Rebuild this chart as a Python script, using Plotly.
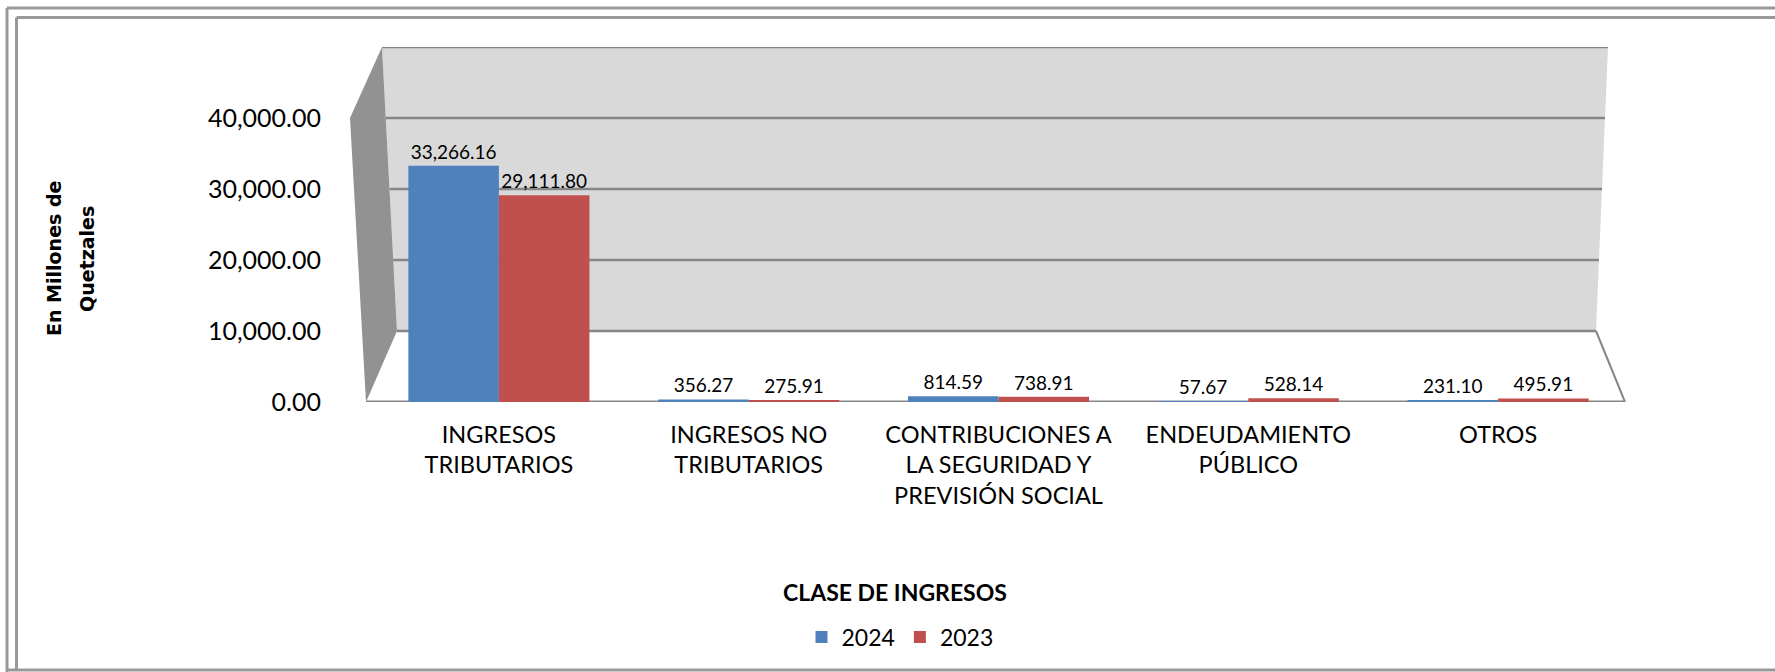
import plotly.graph_objects as go

categories = ["INGRESOS<br>TRIBUTARIOS", "INGRESOS NO<br>TRIBUTARIOS",
              "CONTRIBUCIONES A<br>LA SEGURIDAD Y<br>PREVISIÓN SOCIAL",
              "ENDEUDAMIENTO<br>PÚBLICO", "OTROS"]
values_2024 = [33266.16, 356.27, 814.59, 57.67, 231.10]
values_2023 = [29111.80, 275.91, 738.91, 528.14, 495.91]
series_names = ["2024", "2023"]
tick_vals = [0, 10000, 20000, 30000, 40000]
y_max = 50000

W, H = 1775, 672
ML, MR, MT, MB = 374, 152, 47, 270
PW = W - ML - MR
PH = H - MT - MB


def px_x(px):
    return (px - ML) / PW


def px_y(py):
    return (H - MB - py) / PH


BLUE = "#4F81BD"
RED = "#C0504D"
GRID = "#868686"
FRAME = "#999999"
FONT = "Lato, 'Open Sans', sans-serif"

fig = go.Figure()
for name, vals, col in [(series_names[0], values_2024, BLUE),
                        (series_names[1], values_2023, RED)]:
    fig.add_trace(go.Bar(
        x=categories, y=vals, name=name,
        marker=dict(color=col, line=dict(width=0)),
        texttemplate="%{y:,.2f}", textposition="outside",
        textfont=dict(family=FONT, size=19, color="#000000"),
        cliponaxis=False,
    ))


def wall_x(val, side):
    t = (y_max - val) / (y_max - 10000)
    if side == "L":
        return px_x(382 + (397 - 382) * t)
    return px_x(1608 + (1596 - 1608) * t)


shapes = []
shapes.append(dict(
    type="path", xref="paper", yref="y", layer="below",
    path=f"M {wall_x(y_max,'L')},{y_max} L {wall_x(y_max,'R')},{y_max} "
         f"L {wall_x(10000,'R')},10000 L {wall_x(10000,'L')},10000 Z",
    fillcolor="#D9D9D9", line=dict(width=0),
))
shapes.append(dict(
    type="path", xref="paper", yref="y", layer="below",
    path=f"M {px_x(382)},{y_max} L {px_x(350)},40000 L {px_x(366)},0 L {px_x(397)},10000 Z",
    fillcolor="#929292", line=dict(width=0),
))
for v in tick_vals[1:] + [y_max]:
    shapes.append(dict(type="line", xref="paper", yref="y", layer="below",
                       x0=wall_x(v, "L"), x1=wall_x(v, "R"), y0=v, y1=v,
                       line=dict(color=GRID, width=2.5)))
shapes.append(dict(type="line", xref="paper", yref="y", layer="below",
                   x0=px_x(1596), x1=px_x(1625), y0=10000, y1=0,
                   line=dict(color=GRID, width=2)))
shapes.append(dict(type="line", xref="paper", yref="y", layer="below",
                   x0=px_x(366), x1=px_x(1625), y0=0, y1=0,
                   line=dict(color=GRID, width=3)))
# chart frame: outer (left, top, bottom) and inner (left, top)
frame_lines = [
    (7, 8, 7, 672), (7, 8, 1800, 8), (7, 670, 1800, 670),
    (16.5, 17.5, 16.5, 670), (16.5, 17.5, 1800, 17.5),
]
for x0, y0, x1, y1 in frame_lines:
    shapes.append(dict(type="line", xref="paper", yref="paper",
                       x0=px_x(x0), y0=px_y(y0), x1=px_x(x1), y1=px_y(y1),
                       line=dict(color=FRAME, width=3)))

YFONT = dict(family="DejaVu Sans, Verdana, sans-serif", size=19, color="#000000")
annotations = [
    dict(text="<b>CLASE DE INGRESOS</b>", xref="paper", yref="paper",
         x=px_x(895), y=px_y(592), xanchor="center", yanchor="middle",
         showarrow=False, font=dict(family=FONT, size=23, color="#000000")),
    dict(text="<b>En Millones de</b>", xref="paper", yref="paper",
         x=px_x(54), y=px_y(259), xanchor="center", yanchor="middle",
         textangle=-90, showarrow=False, font=YFONT),
    dict(text="<b>Quetzales</b>", xref="paper", yref="paper",
         x=px_x(87), y=px_y(259), xanchor="center", yanchor="middle",
         textangle=-90, showarrow=False, font=YFONT),
]

fig.update_layout(
    width=W, height=H,
    margin=dict(l=ML, r=MR, t=MT, b=MB),
    paper_bgcolor="#FFFFFF", plot_bgcolor="rgba(0,0,0,0)",
    barmode="group", bargap=0.275, bargroupgap=0.0,
    font=dict(family=FONT, color="#000000"),
    shapes=shapes, annotations=annotations,
    legend=dict(orientation="h", xref="paper", yref="paper",
                x=px_x(900), y=px_y(637), xanchor="center", yanchor="middle",
                font=dict(family=FONT, size=23, color="#000000"),
                bgcolor="rgba(0,0,0,0)", itemwidth=30),
    showlegend=True,
)
fig.update_xaxes(
    type="category", range=[-0.5, 4.5],
    showgrid=False, showline=False, zeroline=False, ticks="",
    tickfont=dict(family=FONT, size=23.5, color="#000000"),
    ticklabelstandoff=16,
)
fig.update_yaxes(
    range=[0, y_max], tickvals=tick_vals, tickformat=",.2f",
    showgrid=False, zeroline=False,
    showline=False, ticks="",
    tickfont=dict(family=FONT, size=25, color="#000000"),
    ticklabelstandoff=52,
)

fig.write_html("out.html", config={"displayModeBar": False},
               post_script="document.body.style.margin='0px';document.body.style.overflow='hidden';")
